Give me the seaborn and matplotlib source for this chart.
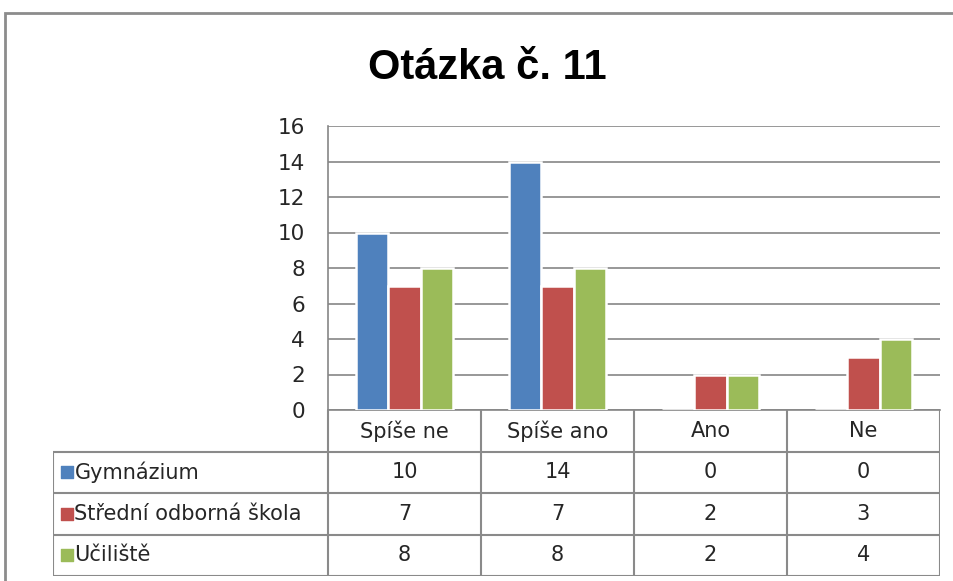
import numpy as np
import pandas as pd
import seaborn as sns
import matplotlib.pyplot as plt
from matplotlib.patches import Rectangle

categories = ["Spíše ne", "Spíše ano", "Ano", "Ne"]
series = ["Gymnázium", "Střední odborná škola", "Učiliště"]
gymnazium = [10, 14, 0, 0]
sos = [7, 7, 2, 3]
uciliste = [8, 8, 2, 4]
colors = ["#4F81BD", "#C0504D", "#9BBB59"]
yticks = [0, 2, 4, 6, 8, 10, 12, 14, 16]

values = [gymnazium, sos, uciliste]
df = pd.DataFrame({
    "kategorie": categories * 3,
    "skupina": np.repeat(series, len(categories)),
    "pocet": gymnazium + sos + uciliste,
})

sns.set_theme(style="white")
plt.rcParams["font.family"] = ["DejaVu Sans"]

W, H = 954, 581
fig = plt.figure(figsize=(W / 100, H / 100), dpi=100)

# outer chart frame (right/bottom edge cut off in the original)
fig.add_artist(Rectangle((5 / W, -0.1), 1.2, 1 - 13 / H + 0.1, transform=fig.transFigure,
                         fill=False, edgecolor="#8c8c8c", linewidth=2))

fig.text(487 / W, 1 - 68 / H, "Otázka č. 11", ha="center", va="center",
         fontsize=30, fontweight="bold", color="black",
         family=["Liberation Sans", "DejaVu Sans"])

x0, x1 = 328 / W, 940 / W
ytop, ybot = 1 - 126 / H, 1 - 410 / H
ax = fig.add_axes([x0, ybot, x1 - x0, ytop - ybot])
sns.barplot(data=df, x="kategorie", y="pocet", hue="skupina", order=categories,
            hue_order=series, palette=colors, width=0.64, edgecolor="white",
            linewidth=1.8, saturation=1, legend=False, ax=ax, zorder=3)
ax.set_ylim(0, 16)
ax.set_xlim(-0.5, 3.5)
ax.set_yticks(yticks)
ax.set_yticklabels([str(t) for t in yticks], fontsize=15.5)
ax.tick_params(axis="y", length=0, pad=16.5)
ax.set_xticks([])
ax.set_xlabel("")
ax.set_ylabel("")
ax.yaxis.grid(True, color="#868686", linewidth=1.2, zorder=0)
ax.set_axisbelow(True)
for s in ["top", "right"]:
    ax.spines[s].set_visible(False)
ax.spines["left"].set_color("#868686")
ax.spines["bottom"].set_color("#868686")
ax.spines["left"].set_linewidth(1.2)
ax.spines["bottom"].set_linewidth(1.2)

# data table below the plot
col_px = (940 - 328) / 4
label_units = (328 - 53) / col_px
tb = fig.add_axes([53 / W, 1 - 576 / H, x1 - 53 / W, (576 - 410) / H])
tb.set_xlim(-0.5 - label_units, 3.5)
tb.set_ylim(4, 0)
tb.axis("off")
line = dict(color="#8a8a8a", linewidth=1.5)
for r in range(1, 5):
    tb.plot([-0.5 - label_units, 3.5], [r, r], **line)
tb.plot([-0.5 - label_units] * 2, [1, 4], **line)
for c in range(5):
    tb.plot([c - 0.5] * 2, [0, 4], **line)
for i, cat in enumerate(categories):
    tb.text(i, 0.5, cat, ha="center", va="center", fontsize=15)
for r, (name, vals, col) in enumerate(zip(series, values, colors), start=1):
    tb.scatter([-0.5 - label_units + 0.09], [r + 0.5], marker="s", s=75, color=col,
               clip_on=False)
    tb.text(-0.5 - label_units + 0.14, r + 0.5, name, ha="left", va="center", fontsize=15)
    for i, v in enumerate(vals):
        tb.text(i, r + 0.5, str(v), ha="center", va="center", fontsize=15)

fig.savefig("out.png", dpi=100)
